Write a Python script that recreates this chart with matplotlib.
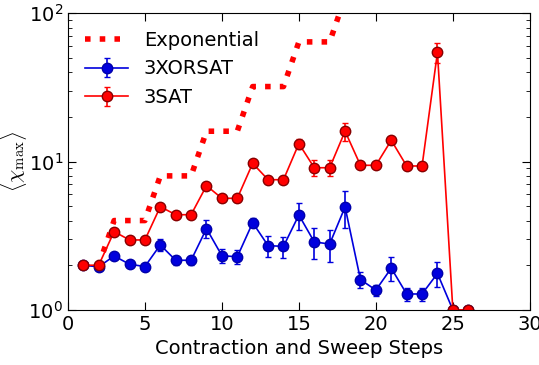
import matplotlib
matplotlib.use("Agg")
import matplotlib.pyplot as plt

steps = list(range(1, 27))

exp_steps = list(range(1, 19))
exponential = [2, 2, 4, 4, 4, 8, 8, 8, 16, 16, 16, 32, 32, 32, 64, 64, 64, 128]

xorsat = [2.0, 1.95, 2.31, 2.03, 1.96, 2.74, 2.16, 2.16, 3.53, 2.32, 2.28, 3.87, 2.71,
          2.68, 4.36, 2.87, 2.78, 4.94, 1.60, 1.36, 1.91, 1.28, 1.28, 1.76, 1.0, 1.0]
xorsat_err = [0.05, 0.05, 0.1, 0.08, 0.08, 0.26, 0.15, 0.15, 0.48, 0.26, 0.25, 0.26, 0.43,
              0.43, 0.9, 0.67, 0.68, 1.4, 0.2, 0.12, 0.35, 0.13, 0.13, 0.33, 0.0, 0.0]

sat = [2.0, 2.0, 3.37, 2.96, 2.96, 4.96, 4.38, 4.38, 6.87, 5.65, 5.65, 9.72, 7.54,
       7.54, 13.2, 9.08, 9.08, 16.0, 9.43, 9.43, 13.9, 9.33, 9.33, 54.4, 1.0, 1.0]
sat_err = [0.05, 0.05, 0.15, 0.1, 0.1, 0.2, 0.2, 0.2, 0.3, 0.3, 0.3, 0.5, 0.4,
           0.4, 1.0, 1.1, 1.1, 2.3, 0.4, 0.4, 0.7, 0.4, 0.4, 8.5, 0.0, 0.0]

plt.rcParams["xtick.direction"] = "in"
plt.rcParams["ytick.direction"] = "in"
plt.rcParams["xtick.top"] = True
plt.rcParams["ytick.right"] = True
plt.rcParams["xtick.major.size"] = 6
plt.rcParams["ytick.major.size"] = 6
plt.rcParams["ytick.minor.size"] = 3
plt.rcParams["font.size"] = 14
plt.rcParams["mathtext.fontset"] = "cm"

fig = plt.figure(figsize=(5.39, 3.65), dpi=100)
ax = fig.add_axes([0.126, 0.151, 0.857, 0.813])

ax.plot(exp_steps, exponential, ":", color="red", lw=4, label="Exponential")
ax.errorbar(steps, xorsat, yerr=xorsat_err, color="#0000dd", marker="o", ms=7.5,
            mec="#0000aa", lw=1.2, capsize=2.5, label="3XORSAT")
ax.errorbar(steps, sat, yerr=sat_err, color="red", marker="o", ms=7.5,
            mec="#880000", lw=1.2, capsize=2.5, label="3SAT")

ax.set_yscale("log")
ax.set_xlim(0, 30)
ax.set_ylim(1, 100)
ax.set_yticks([1, 10, 100], [r"$\mathdefault{10^{0}}$", r"$\mathdefault{10^{1}}$",
                             r"$\mathdefault{10^{2}}$"], fontfamily="DejaVu Sans")
ax.set_xlabel("Contraction and Sweep Steps")
ax.set_ylabel(r"$\langle\chi_{\max}\rangle$", fontsize=15)
ax.yaxis.set_label_coords(-0.085, 0.5)
ax.legend(loc="upper left", frameon=False, handlelength=2.2)

fig.savefig("out.png", dpi=100)
